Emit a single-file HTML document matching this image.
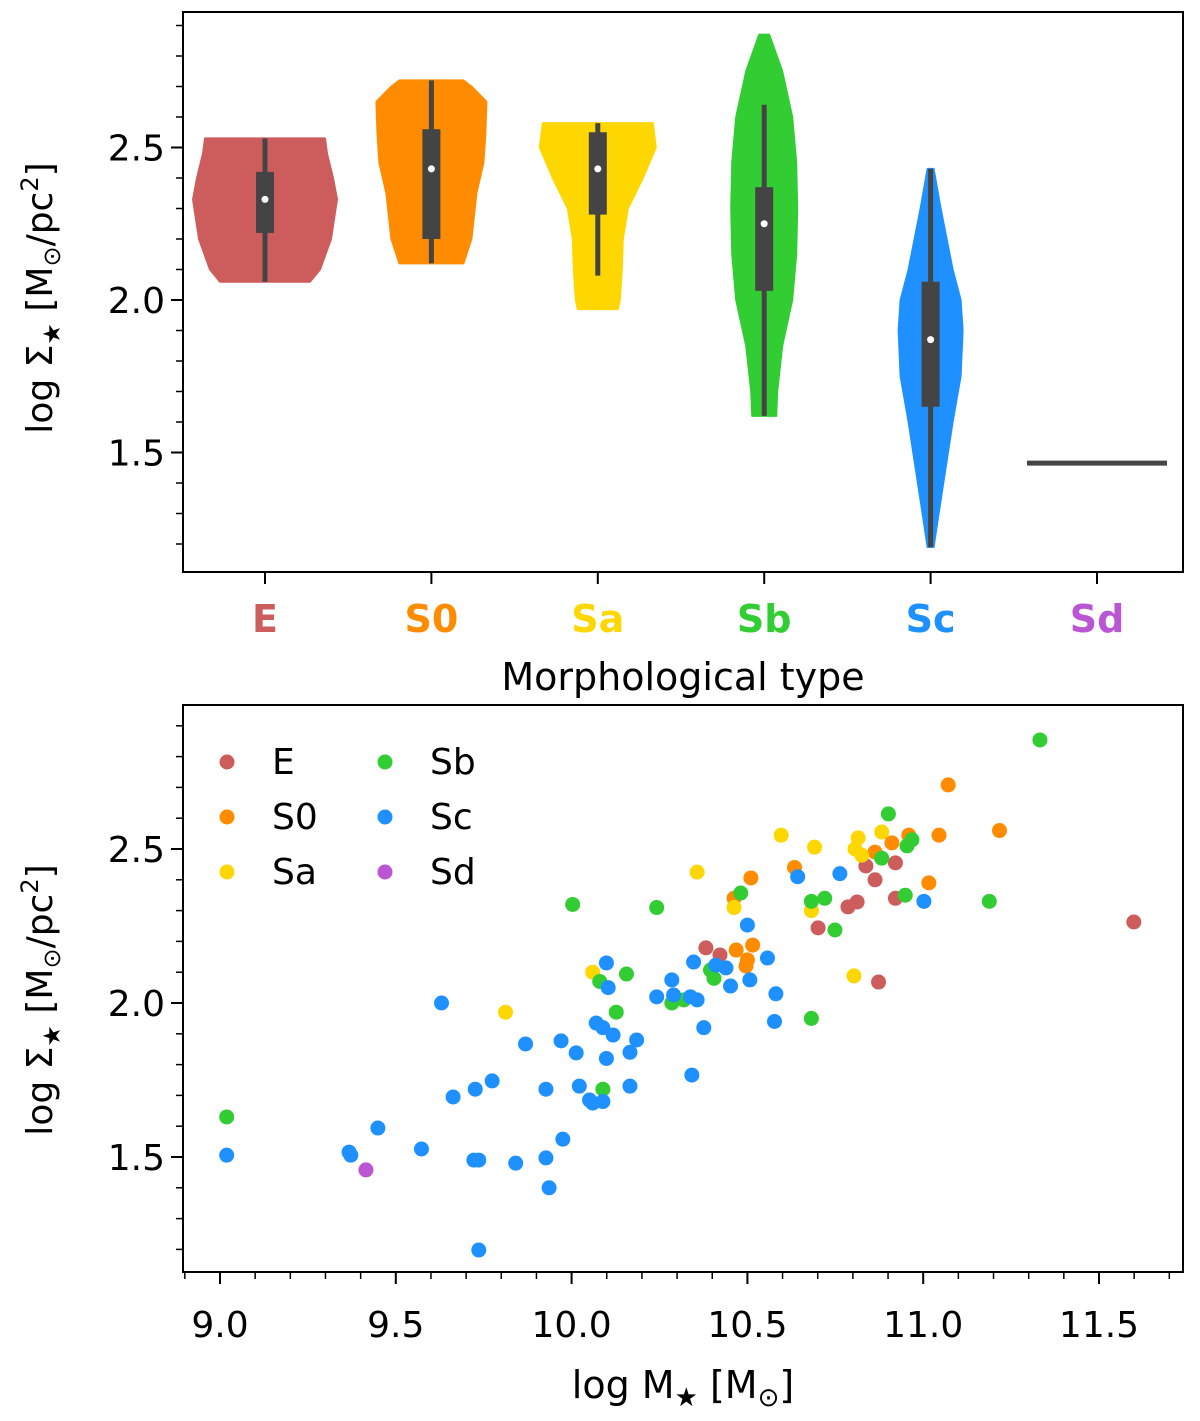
<!DOCTYPE html>
<html><head><meta charset="utf-8"><style>
html,body{margin:0;padding:0;background:#fff}
svg{display:block;font-family:"DejaVu Sans","Liberation Sans",sans-serif}
</style></head><body>
<svg id="c" width="1200" height="1421" viewBox="0 0 1200 1421"></svg>
<script>
// ---- data: top violin panel ----
const categories = ["E","S0","Sa","Sb","Sc","Sd"];
const catColors = ["#cd5c5c","#ff8c00","#ffd700","#32cd32","#1e90ff","#ba55d3"];
const violinLevels = [
 [2.06,2.1,2.2,2.33,2.4,2.48,2.53],
 [2.12,2.2,2.35,2.45,2.55,2.65,2.70,2.72],
 [1.97,2.0,2.1,2.2,2.3,2.4,2.5,2.58],
 [1.62,1.7,1.85,2.0,2.15,2.3,2.45,2.6,2.75,2.87],
 [1.19,1.3,1.45,1.6,1.75,1.9,2.0,2.1,2.3,2.43]
];
const violinWidths = [
 [45,55,66,72,68,62,60],
 [32,40,45,52,54,55,40,32],
 [20,22,24,25,30,45,58,55],
 [12,13,18,28,32,33,32,28,18,5],
 [3,8,15,22,30,32,30,22,10,3]
];
const boxQ1 = [2.22,2.20,2.28,2.03,1.65];
const boxMed = [2.33,2.43,2.43,2.25,1.87];
const boxQ3 = [2.42,2.56,2.55,2.37,2.06];
const whiskLo = [2.06,2.12,2.08,1.62,1.19];
const whiskHi = [2.53,2.72,2.58,2.64,2.43];
const sdValue = 1.465;
const topTicks = [1.5,2.0,2.5];
// ---- data: bottom scatter ----
const E_x=[10.382,10.422,10.701,10.786,10.812,10.837,10.863,10.921,10.921,10.873,11.599];
const E_y=[2.179,2.156,2.244,2.312,2.328,2.445,2.40,2.455,2.34,2.068,2.263];
const S0_x=[11.071,11.217,11.045,11.016,10.468,10.51,10.462,10.515,10.5,10.634,10.959,10.911,10.863,10.496];
const S0_y=[2.708,2.56,2.545,2.39,2.172,2.406,2.34,2.188,2.14,2.44,2.545,2.52,2.49,2.12];
const Sa_x=[10.596,10.691,10.357,10.815,10.806,10.882,10.825,10.462,10.682,10.803,10.06,9.812];
const Sa_y=[2.545,2.506,2.425,2.536,2.5,2.555,2.48,2.31,2.30,2.088,2.10,1.97];
const Sb_x=[11.332,10.901,10.968,10.954,10.882,10.949,11.188,10.682,10.72,10.749,10.481,10.682,10.319,10.285,10.003,10.242,10.156,10.395,10.405,10.08,10.127,10.089,9.019];
const Sb_y=[2.854,2.614,2.53,2.51,2.47,2.35,2.33,2.33,2.34,2.237,2.357,1.95,2.01,2.0,2.32,2.31,2.094,2.107,2.08,2.07,1.97,1.72,1.63];
const Sc_x=[9.019,9.367,9.372,9.449,9.573,9.63,9.663,9.726,9.774,9.722,9.736,9.736,9.841,9.869,9.927,9.927,9.936,9.975,9.97,10.013,10.022,10.051,10.06,10.07,10.089,10.089,10.099,10.104,10.099,10.118,10.166,10.185,10.166,10.242,10.285,10.29,10.342,10.347,10.338,10.357,10.376,10.41,10.439,10.452,10.5,10.507,10.557,10.577,10.581,10.643,10.763,11.002];
const Sc_y=[1.506,1.516,1.506,1.594,1.526,2.0,1.695,1.72,1.747,1.49,1.49,1.198,1.48,1.867,1.497,1.72,1.4,1.558,1.877,1.838,1.73,1.685,1.675,1.935,1.92,1.68,2.13,2.05,1.82,1.896,1.84,1.88,1.73,2.02,2.075,2.026,1.766,2.133,2.02,2.01,1.92,2.123,2.114,2.055,2.253,2.075,2.146,1.94,2.03,2.41,2.42,2.33];
const Sd_x=[9.415];
const Sd_y=[1.458];
const botYTicks=[1.5,2.0,2.5];
const botXTicks=[9.0,9.5,10.0,10.5,11.0,11.5];

const NS="http://www.w3.org/2000/svg";
const svg=document.getElementById('c');
function mk(tag,attrs,parent,text){const e=document.createElementNS(NS,tag);for(const k in attrs)e.setAttribute(k,attrs[k]);if(text!==undefined)e.textContent=text;(parent||svg).appendChild(e);return e;}

// axis functions
const yTop=v=>300-(v-2)*305;
const xCat=i=>265+i*166.4;
const yBot=v=>1003-(v-2)*308;
const xBot=v=>220+(v-9)*351.6;

// ---- top panel ----
const gT=mk('g',{});


for(let i=0;i<5;i++){
  const lv=violinLevels[i],w=violinWidths[i],cx=xCat(i);
  let pts=[];
  for(let k=0;k<lv.length;k++)pts.push((cx+w[k])+','+yTop(lv[k]));
  for(let k=lv.length-1;k>=0;k--)pts.push((cx-w[k])+','+yTop(lv[k]));
  const p=mk('polygon',{points:pts.join(' '),fill:catColors[i],stroke:catColors[i],'stroke-width':2,'stroke-linejoin':'round'},gT);
  
  
  const wl=mk('line',{x1:cx,x2:cx,y1:yTop(whiskLo[i]),y2:yTop(whiskHi[i]),stroke:'#444','stroke-width':5},gT);
  
  
  const bx=mk('rect',{x:cx-9,width:18,y:yTop(boxQ3[i]),height:yTop(boxQ1[i])-yTop(boxQ3[i]),fill:'#444'},gT);
  
  
  const md=mk('circle',{cx:cx,cy:yTop(boxMed[i]),r:3.5,fill:'#fff'},gT);
  
  
}
const sdl=mk('line',{x1:xCat(5)-70,x2:xCat(5)+70,y1:yTop(sdValue),y2:yTop(sdValue),stroke:'#444','stroke-width':5},gT);


const fT=mk('rect',{x:183,y:12,width:1000,height:560,fill:'none',stroke:'#000','stroke-width':2},gT);


for(let v=1.2;v<=2.901;v+=0.1){const y=yTop(v);mk('line',{x1:176,x2:183,y1:y,y2:y,stroke:'#000','stroke-width':1.5},gT);}
topTicks.forEach(v=>{const y=yTop(v);mk('line',{x1:171,x2:183,y1:y,y2:y,stroke:'#000','stroke-width':2},gT);
  const t=mk('text',{x:165,y:y+13,'font-size':36,'text-anchor':'end'},gT,v.toFixed(1));
  });
categories.forEach((c,i)=>{const x=xCat(i);mk('line',{x1:x,x2:x,y1:572,y2:584,stroke:'#000','stroke-width':2},gT);
  const t=mk('text',{x:x,y:632,'font-size':38,'font-weight':'bold','text-anchor':'middle',fill:catColors[i]},gT,c);
  });
const xl=mk('text',{x:683,y:690,'font-size':38,'text-anchor':'middle'},gT,'Morphological type');

const yl=mk('text',{transform:'translate(52,298) rotate(-90)','font-size':36,'text-anchor':'middle'},gT);
yl.innerHTML='log Σ<tspan font-size="24" dy="8">★</tspan><tspan dy="-8"> [M</tspan><tspan font-size="24" dy="8">⊙</tspan><tspan dy="-8">/pc</tspan><tspan font-size="24" dy="-14">2</tspan><tspan dy="14">]</tspan>';


// ---- bottom panel ----
const gB=mk('g',{});


const fB=mk('rect',{x:183,y:705,width:1000,height:567,fill:'none',stroke:'#000','stroke-width':2},gB);


for(let v=1.2;v<=2.901;v+=0.1){const y=yBot(v);mk('line',{x1:176,x2:183,y1:y,y2:y,stroke:'#000','stroke-width':1.5},gB);}
for(let v=8.9;v<=11.801;v+=0.1){const x=xBot(v);if(x>183&&x<1183)mk('line',{x1:x,x2:x,y1:1272,y2:1279,stroke:'#000','stroke-width':1.5},gB);}
botYTicks.forEach(v=>{const y=yBot(v);mk('line',{x1:171,x2:183,y1:y,y2:y,stroke:'#000','stroke-width':2},gB);
  const t=mk('text',{x:165,y:y+13,'font-size':36,'text-anchor':'end'},gB,v.toFixed(1));
  });
botXTicks.forEach(v=>{const x=xBot(v);mk('line',{x1:x,x2:x,y1:1272,y2:1284,stroke:'#000','stroke-width':2},gB);
  const t=mk('text',{x:x,y:1337,'font-size':36,'text-anchor':'middle'},gB,v.toFixed(1));
  });
const xl2=mk('text',{x:683,y:1398,'font-size':38,'text-anchor':'middle'},gB);
xl2.innerHTML='log M<tspan font-size="26" dy="8">★</tspan><tspan dy="-8"> [M</tspan><tspan font-size="26" dy="8">⊙</tspan><tspan dy="-8">]</tspan>';

const yl2=mk('text',{transform:'translate(52,1000) rotate(-90)','font-size':36,'text-anchor':'middle'},gB);
yl2.innerHTML=yl.innerHTML;


const series=[[E_x,E_y],[S0_x,S0_y],[Sa_x,Sa_y],[Sb_x,Sb_y],[Sc_x,Sc_y],[Sd_x,Sd_y]];
series.forEach((s,i)=>{
  const g=mk('g',{},gB);
  
  
  for(let k=0;k<s[0].length;k++){
    const c=mk('circle',{cx:xBot(s[0][k]),cy:yBot(s[1][k]),r:7.5,fill:catColors[i]},g);
    
    
  }
});
// legend
const lg=mk('g',{},gB);


categories.forEach((c,i)=>{
  const col=Math.floor(i/3),row=i%3;
  const mx=227+col*158,my=762+row*55;
  const e=mk('g',{},lg);
  
  
  mk('circle',{cx:mx,cy:my,r:7.5,fill:catColors[i]},e);
  mk('text',{x:mx+45,y:my+12,'font-size':36},e,c);
});
</script>
</body></html>
